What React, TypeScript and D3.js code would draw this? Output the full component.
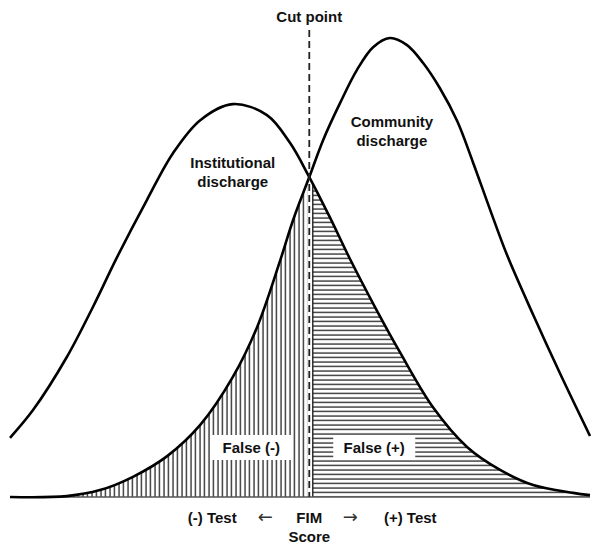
import React from 'react';
import * as d3 from 'd3';

// curves: x = FIM score (0-100 across the plot), y = relative frequency (0-100)
const institutionalX = [0, 4.0, 9.8, 14.3, 18.4, 23.6, 28.1, 32.8, 38.4, 44.3, 48.3, 51.6, 55.2, 58.6, 63.3, 67.2, 72.9, 78.8, 84.5, 90.2, 97.1, 100];
const institutionalY = [12.9, 19.0, 30.5, 41.4, 52.1, 64.7, 74.9, 82.1, 85.6, 83.2, 77.1, 69.7, 60.8, 51.9, 40.5, 31.6, 19.6, 10.9, 5.9, 2.6, 0.9, 0.4];

const communityX = [0, 9.8, 15.5, 21.2, 27.1, 32.8, 38.4, 42.6, 46.6, 48.8, 51.6, 54.0, 56.9, 59.8, 62.6, 65.5, 68.4, 71.2, 74.1, 77.1, 79.8, 82.8, 85.7, 90.2, 94.8, 100];
const communityY = [0, 0.2, 1.5, 4.4, 8.9, 15.7, 26.1, 37.0, 51.6, 60.3, 69.7, 77.8, 85.8, 93.0, 98.0, 100, 98.5, 94.6, 89.1, 81.9, 73.0, 62.5, 52.7, 39.7, 27.0, 13.3];

const cutPoint = 51.6;
const falseNegX = 41.6;
const falsePosX = 62.8;

const institutionalLabel = ['Institutional', 'discharge'];
const communityLabel = ['Community', 'discharge'];
const axisLabels = ['(-) Test', '\u2190', 'FIM', '\u2192', '(+) Test'];

const W = 600;
const H = 550;

type Pt = [number, number];

const App = () => {
	const x = d3.scaleLinear().domain([0, 100]).range([10, 590]);
	const y = d3.scaleLinear().domain([0, 100]).range([497, 38]);

	const inst: Pt[] = institutionalX.map((v, i) => [v, institutionalY[i]]);
	const comm: Pt[] = communityX.map((v, i) => [v, communityY[i]]);

	const curve = d3.curveCatmullRom.alpha(0.5);
	const line = d3.line<Pt>().x((d) => x(d[0])).y((d) => y(d[1])).curve(curve);
	const area = d3
		.area<Pt>()
		.x((d) => x(d[0]))
		.y0(y(0))
		.y1((d) => y(d[1]))
		.curve(curve);

	const cx = x(cutPoint);
	const instPeak = inst.reduce((a, b) => (b[1] > a[1] ? b : a));
	const commPeak = comm.reduce((a, b) => (b[1] > a[1] ? b : a));

	const font = {
		fontFamily: '"Liberation Sans", Arial, sans-serif',
		fontWeight: 'bold' as const,
		fontSize: 15,
		fill: '#111',
	};
	const arrowFont = {
		fontFamily: '"DejaVu Sans", sans-serif',
		fontWeight: 'normal' as const,
		fontSize: 18,
		fill: '#333',
	};

	const axisOffsets = [-97, -44, 0, 41, 101];

	return (
		<svg width={W} height={H} style={{ position: 'absolute', left: 0, top: 0, background: '#fff' }}>
			<defs>
				<pattern id="vhatch" width={4.5} height={8} patternUnits="userSpaceOnUse">
					<line x1={2} x2={2} y1={0} y2={8} stroke="#222" strokeWidth={1.3} />
				</pattern>
				<pattern id="hhatch" width={8} height={4.5} patternUnits="userSpaceOnUse">
					<line x1={0} x2={8} y1={2} y2={2} stroke="#222" strokeWidth={1.3} />
				</pattern>
				<clipPath id="leftClip">
					<rect x={0} y={0} width={cx - 2} height={H} />
				</clipPath>
				<clipPath id="rightClip">
					<rect x={cx + 3.5} y={0} width={W} height={H} />
				</clipPath>
				<clipPath id="instArea">
					<path d={area(inst) || ''} />
				</clipPath>
			</defs>

			{/* hatched error regions */}
			<path d={area(comm) || ''} fill="url(#vhatch)" clipPath="url(#leftClip)" />
			<path d={area(inst) || ''} fill="url(#hhatch)" clipPath="url(#rightClip)" />
			<line
				x1={cx + 3.5}
				x2={cx + 3.5}
				y1={y(0)}
				y2={y(100)}
				stroke="#222"
				strokeWidth={1.4}
				clipPath="url(#instArea)"
			/>
			<line x1={x(0)} x2={x(100)} y1={y(0)} y2={y(0)} stroke="#555" strokeWidth={1.5} />

			{/* label boxes */}
			<rect x={x(falseNegX) - 41} y={435} width={82} height={25} fill="#fff" />
			<rect x={x(falsePosX) - 41} y={435} width={82} height={25} fill="#fff" />
			<text x={x(falseNegX)} y={453} textAnchor="middle" style={font}>False (-)</text>
			<text x={x(falsePosX)} y={453} textAnchor="middle" style={font}>False (+)</text>

			{/* curves */}
			<path d={line(inst) || ''} fill="none" stroke="#000" strokeWidth={2.6} />
			<path d={line(comm) || ''} fill="none" stroke="#000" strokeWidth={2.6} />

			{/* cut point */}
			<line x1={cx} x2={cx} y1={30} y2={y(0)} stroke="#222" strokeWidth={1.8} strokeDasharray="7 4" />
			<text x={cx} y={22} textAnchor="middle" style={font}>Cut point</text>

			{institutionalLabel.map((t, i) => (
				<text key={t} x={x(instPeak[0])} y={168 + i * 19} textAnchor="middle" style={font}>
					{t}
				</text>
			))}
			{communityLabel.map((t, i) => (
				<text key={t} x={x(commPeak[0]) + 2} y={127 + i * 19} textAnchor="middle" style={font}>
					{t}
				</text>
			))}

			{axisLabels.map((t, i) => (
				<text
					key={t}
					x={cx + axisOffsets[i]}
					y={523}
					textAnchor="middle"
					style={i === 1 || i === 3 ? arrowFont : font}
				>
					{t}
				</text>
			))}
			<text x={cx} y={542} textAnchor="middle" style={font}>Score</text>
		</svg>
	);
};

export default App;
